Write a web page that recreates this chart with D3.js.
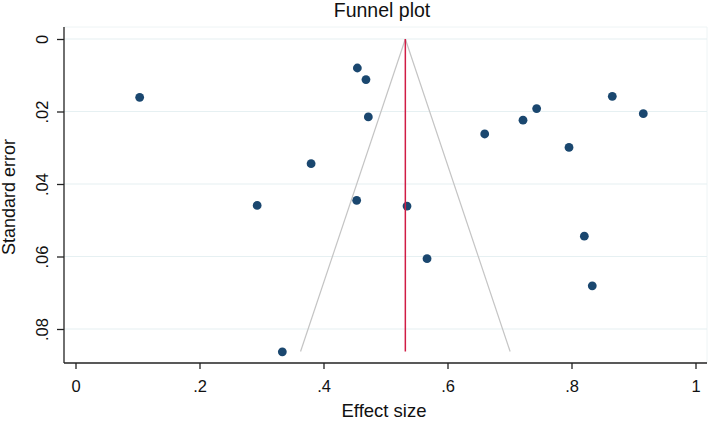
<!DOCTYPE html>
<html>
<head>
<meta charset="utf-8">
<script src="https://cdn.jsdelivr.net/npm/d3@7"></script>
<style>
  html, body { margin: 0; padding: 0; background: #ffffff; }
  svg { display: block; font-family: "Liberation Sans", Arial, sans-serif; }
</style>
</head>
<body>
<svg id="chart" width="709" height="423"></svg>
<script>
// ---- data ----
const effectSize = [0.1035, 0.380, 0.293, 0.4546, 0.4535, 0.4685, 0.4723, 0.660, 0.7218,
                    0.7438, 0.8658, 0.9158, 0.796, 0.5347, 0.3336, 0.567, 0.8207, 0.8335];
const standardError = [0.0161, 0.0344, 0.0459, 0.0080, 0.0445, 0.0112, 0.0215, 0.0262, 0.0224,
                       0.0192, 0.0158, 0.0206, 0.0299, 0.0461, 0.0863, 0.0606, 0.0544, 0.0681];
const pooledLine = [[0.532, 0], [0.532, 0.0862]];
const funnelLeft = [[0.532, 0], [0.363, 0.0862]];
const funnelRight = [[0.532, 0], [0.701, 0.0862]];
const xTicks = [0, 0.2, 0.4, 0.6, 0.8, 1];
const xTickLabels = ["0", ".2", ".4", ".6", ".8", "1"];
const yTicks = [0, 0.02, 0.04, 0.06, 0.08];
const yTickLabels = ["0", ".02", ".04", ".06", ".08"];
const titleText = "Funnel plot";
const xTitle = "Effect size";
const yTitle = "Standard error";

// ---- layout ----
const svg = d3.select("#chart");
const frame = { left: 64, right: 707, top: 27, bottom: 363 };
const x = d3.scaleLinear().domain([0, 1]).range([75.5, 695.5]);
const y = d3.scaleLinear().domain([0, 0.08]).range([39, 329]);

// plot region faint outline (top & right)
svg.append("path")
  .attr("d", `M${frame.left},${frame.top}H${frame.right}V${frame.bottom}`)
  .attr("fill", "none").attr("stroke", "#eef4f5").attr("stroke-width", 1);

// gridlines
svg.append("g").selectAll("line").data(yTicks).join("line")
  .attr("x1", frame.left).attr("x2", frame.right)
  .attr("y1", d => y(d)).attr("y2", d => y(d))
  .attr("stroke", "#e6f0f2").attr("stroke-width", 1.2);

// points
svg.append("g").selectAll("circle").data(effectSize.map((v, i) => [v, standardError[i]])).join("circle")
  .attr("cx", d => x(d[0])).attr("cy", d => y(d[1]))
  .attr("r", 4.4).attr("fill", "#1a476f");

// funnel and pooled lines
const line = d3.line().x(d => x(d[0])).y(d => y(d[1]));
[funnelLeft, funnelRight].forEach(f => {
  svg.append("path").attr("d", line(f)).attr("fill", "none")
    .attr("stroke", "#c4c4c4").attr("stroke-width", 1.2);
});
svg.append("path").attr("d", line(pooledLine)).attr("fill", "none")
  .attr("stroke", "#d01c44").attr("stroke-width", 1.5);

// x axis
const xAxis = d3.axisBottom(x).tickValues(xTicks)
  .tickFormat((d, i) => xTickLabels[i]).tickSize(6).tickSizeOuter(0).tickPadding(4);
const gx = svg.append("g").attr("transform", `translate(0,${frame.bottom})`).call(xAxis);
gx.select(".domain").remove();
gx.append("line").attr("x1", frame.left).attr("x2", frame.right)
  .attr("stroke", "#222").attr("stroke-width", 1.3);
gx.selectAll(".tick line").attr("stroke", "#222").attr("stroke-width", 1.3);
gx.selectAll(".tick text").attr("font-size", 16.5).attr("fill", "#111")
  .attr("font-family", "Liberation Sans, Arial, sans-serif").attr("dy", null).attr("y", 29);

// y axis
const yAxis = d3.axisLeft(y).tickValues(yTicks)
  .tickFormat((d, i) => yTickLabels[i]).tickSize(7).tickSizeOuter(0);
const gy = svg.append("g").attr("transform", `translate(${frame.left},0)`).call(yAxis);
gy.select(".domain").remove();
gy.append("line").attr("y1", frame.top).attr("y2", frame.bottom)
  .attr("stroke", "#222").attr("stroke-width", 1.3);
gy.selectAll(".tick line").attr("stroke", "#222").attr("stroke-width", 1.3);
gy.selectAll(".tick text").attr("font-size", 16.5).attr("fill", "#111")
  .attr("font-family", "Liberation Sans, Arial, sans-serif")
  .attr("x", null).attr("dy", null)
  .attr("text-anchor", "middle")
  .attr("transform", "translate(-16,0) rotate(-90)");

// titles
svg.append("text").attr("x", 382).attr("y", 17).attr("text-anchor", "middle")
  .attr("font-size", 19.5).attr("fill", "#111").text(titleText);
svg.append("text").attr("x", 384).attr("y", 417).attr("text-anchor", "middle")
  .attr("font-size", 18.5).attr("fill", "#111").text(xTitle);
svg.append("text").attr("transform", "translate(15,197) rotate(-90)").attr("text-anchor", "middle")
  .attr("font-size", 18).attr("fill", "#111").text(yTitle);
</script>
</body>
</html>
